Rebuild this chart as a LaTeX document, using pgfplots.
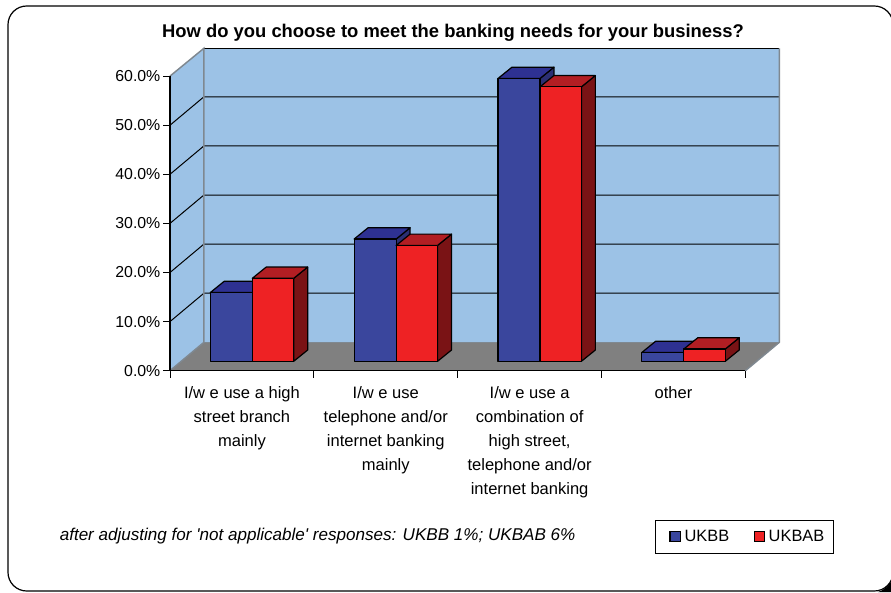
\documentclass[border=0pt]{standalone}
\usepackage{fontspec}
\setmainfont{Liberation Sans}
\usepackage{pgfplots}
\pgfplotsset{compat=1.18}
\definecolor{wall}{HTML}{9CC2E6}
\definecolor{floorgray}{HTML}{808080}
\definecolor{edgegray}{HTML}{7F8890}
\definecolor{bluefront}{HTML}{3A469D}
\definecolor{bluetop}{HTML}{2E3192}
\definecolor{blueside}{HTML}{2B2F73}
\definecolor{redfront}{HTML}{EE2224}
\definecolor{redtop}{HTML}{B21E23}
\definecolor{redside}{HTML}{7A1315}
% Depth of the chart box and of each bar, in axis units
\def\boxdx{0.2357}
\def\boxdy{5.78}
\def\bardx{0.097}
\def\bardy{2.3}
% Draws one bar: left edge, right edge, value, front, top and side colours
\newcommand\barbox[6]{%
  \pgfmathsetmacro\xr{#2+\bardx}%
  \pgfmathsetmacro\xl{#1+\bardx}%
  \pgfmathsetmacro\yt{#3+\bardy}%
  \edef\faces{%
    \noexpand\addplot[forget plot,fill=#6,draw=black,line width=0.9pt,line join=round] coordinates {(#2,0) (\xr,\bardy) (\xr,\yt) (#2,#3)} --cycle;
    \noexpand\addplot[forget plot,fill=#5,draw=black,line width=0.9pt,line join=round] coordinates {(#1,#3) (\xl,\yt) (\xr,\yt) (#2,#3)} --cycle;
    \noexpand\addplot[forget plot,fill=#4,draw=black,line width=0.9pt,line join=round] coordinates {(#1,0) (#1,#3) (#2,#3) (#2,0)} --cycle;
  }\faces
}
% One gridline across the side wall and the back wall
\newcommand\gridrow[1]{%
  \pgfmathsetmacro\yb{#1+\boxdy}%
  \edef\row{\noexpand\addplot[forget plot,black,line width=0.75pt] coordinates {(0,#1) (\boxdx,\yb) (4.2357,\yb)};}\row
}
\begin{document}
\begin{tikzpicture}
\useasboundingbox (0,0) rectangle (668.25pt,444pt);
\draw[black,line width=0.9pt,rounded corners=14pt] (6pt,0.75pt) rectangle (669.75pt,439.5pt);
\fill[black] (658.5pt,0pt) .. controls (662pt,1pt) and (666pt,4pt) .. (668.25pt,7.5pt) -- (668.25pt,0pt) -- cycle;
\begin{axis}[
  at={(127.5pt,165.975pt)},anchor=south west,
  scale only axis,width=456.98pt,height=241.8pt,
  xmin=0,xmax=4.2357,ymin=-1.914,ymax=63.75,
  clip=false,
  axis line style={draw=none},
  tick align=outside,
  tick style={black,line width=0.6pt},
  xtick={0.5,1.5,2.5,3.5},
  minor xtick={0,1,2,3,4},
  major x tick style={draw=none},
  minor x tick style={black,line width=0.6pt},
  minor tick length=5.2pt,
  xtick pos=bottom,ytick pos=left,
  xticklabels={{I/w e use a high\\street branch\\mainly},
               {I/w e use\\telephone and/or\\internet banking\\mainly},
               {I/w e use a\\combination of\\high street,\\telephone and/or\\internet banking},
               {other}},
  xticklabel style={align=center,font=\fontsize{12.4pt}{18pt}\selectfont,text=black,yshift=-3pt},
  ytick={-1.914,8.086,18.086,28.086,38.086,48.086,58.086},
  yticklabels={0.0\%,10.0\%,20.0\%,30.0\%,40.0\%,50.0\%,60.0\%},
  yticklabel style={font=\fontsize{11.9pt}{14pt}\selectfont,text=black,xshift=1.5pt},
  major tick length=5.2pt,
  legend style={at={(0.9426,-0.515)},anchor=center,draw=black,line width=0.6pt,
    font=\fontsize{12.3pt}{14pt}\selectfont,legend columns=2,
    /tikz/every even column/.style={column sep=10.5pt},
    inner xsep=4.5pt,inner ysep=5.5pt},
  legend cell align=left,
  legend image code/.code={\path (-5.75pt,0pt) (8.5pt,0pt);\draw[#1] (0pt,-3.7pt) rectangle (8pt,3.7pt);},
]
% Walls and floor of the box
\addplot[forget plot,fill=wall,draw=none] coordinates {(0,-1.914) (0.2357,3.866) (0.2357,63.75) (0,57.97)} --cycle;
\addplot[forget plot,fill=wall,draw=none] coordinates {(0.2357,3.866) (0.2357,63.75) (4.2357,63.75) (4.2357,3.866)} --cycle;
\addplot[forget plot,fill=floorgray,draw=none] coordinates {(0,-1.914) (0.2357,3.866) (4.2357,3.866) (4,-1.914)} --cycle;
% Gridlines at each ten per cent step
\gridrow{8.086}
\gridrow{18.086}
\gridrow{28.086}
\gridrow{38.086}
\gridrow{48.086}
\addplot[forget plot,black,line width=0.75pt] coordinates {(0.2357,63.75) (4.2357,63.75)};
% Edges of the box
\addplot[forget plot,edgegray,line width=1.1pt] coordinates {(0,58.086) (0.2357,63.75) (0.2357,3.866) (0,-1.914)};
\addplot[forget plot,edgegray,line width=1.1pt] coordinates {(4.2357,63.75) (4.2357,3.866) (4,-1.914)};
\addplot[forget plot,edgegray,line width=0.6pt] coordinates {(0.2357,3.866) (4.2357,3.866)};
\addplot[forget plot,black,line width=0.9pt] coordinates {(0,58.086) (0,-1.914) (4,-1.914)};
% Bars, series UKBB then UKBAB in each group
\barbox{0.28}{0.572}{14.0}{bluefront}{bluetop}{blueside}
\barbox{0.572}{0.86}{16.9}{redfront}{redtop}{redside}
\barbox{1.28}{1.572}{24.9}{bluefront}{bluetop}{blueside}
\barbox{1.572}{1.86}{23.6}{redfront}{redtop}{redside}
\barbox{2.28}{2.572}{57.6}{bluefront}{bluetop}{blueside}
\barbox{2.572}{2.86}{55.9}{redfront}{redtop}{redside}
\barbox{3.28}{3.572}{1.8}{bluefront}{bluetop}{blueside}
\barbox{3.572}{3.86}{2.5}{redfront}{redtop}{redside}
\addlegendimage{fill=bluefront,draw=black,line width=0.9pt}
\addlegendentry{UKBB}
\addlegendimage{fill=redfront,draw=black,line width=0.9pt}
\addlegendentry{UKBAB}
\end{axis}
\node[font=\fontsize{13.8pt}{14pt}\selectfont\bfseries,text=black] at (339.75pt,419.25pt) {How do you choose to meet the banking needs for your business?};
\node[font=\fontsize{12.8pt}{14pt}\selectfont\itshape,text=black,anchor=west] at (41.3pt,42pt) {after adjusting for \textquotesingle not applicable\textquotesingle{} responses: UKBB 1\%; UKBAB 6\%};
\end{tikzpicture}
\end{document}
